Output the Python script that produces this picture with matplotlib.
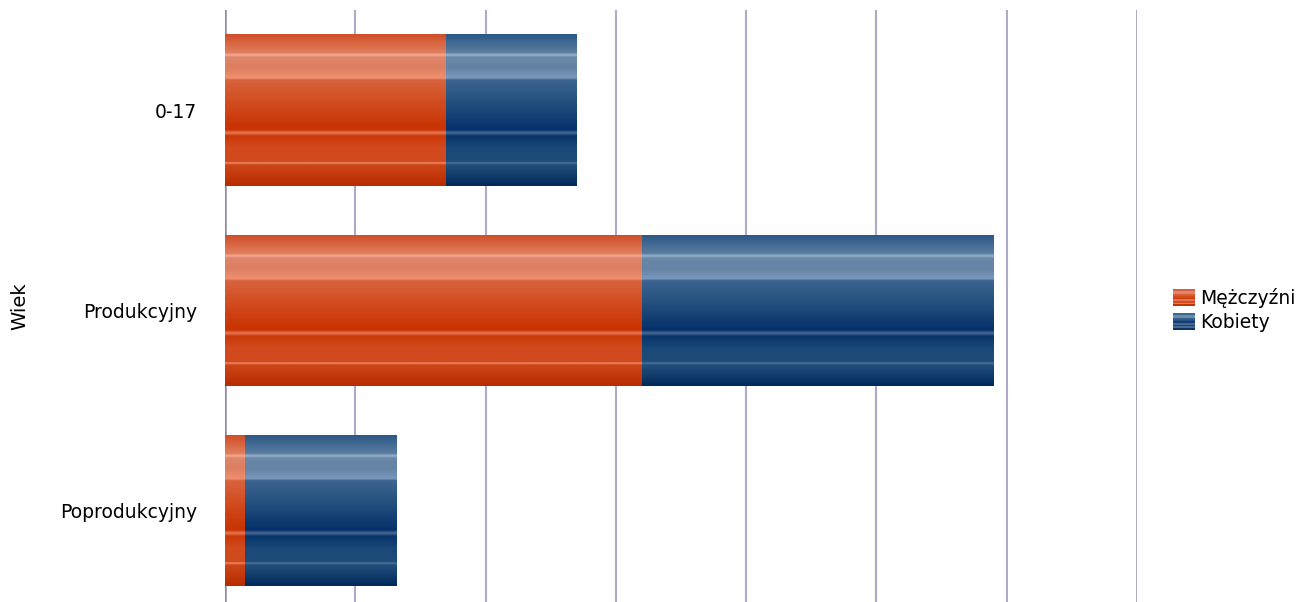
import numpy as np
import matplotlib.pyplot as plt
from matplotlib.patches import Rectangle
from matplotlib.legend_handler import HandlerBase

categories = ["0-17", "Produkcyjny", "Poprodukcyjny"]
men = [17, 32, 1.5]
women = [10, 27, 11.6]
series_names = ["Mężczyźni", "Kobiety"]

# vertical colour profile of the bars (position from top, colour)
orange_stops = [(0.00, "#d04e28"), (0.12, "#e07e5c"), (0.137, "#f2ac94"), (0.15, "#e0866a"),
                (0.22, "#dc7e60"), (0.29, "#f09070"), (0.30, "#d8643e"), (0.45, "#d24c20"),
                (0.63, "#c83200"), (0.65, "#e87a58"), (0.67, "#ca3808"), (0.75, "#d24a1e"),
                (0.84, "#d04a1e"), (0.85, "#ee9070"), (0.86, "#cc4618"), (1.00, "#b82c00")]
blue_stops = [(0.00, "#2c5886"), (0.12, "#5a7ca0"), (0.137, "#9ab4cc"), (0.15, "#6a88a8"),
              (0.22, "#6482a4"), (0.29, "#7a98bc"), (0.30, "#3c6490"), (0.45, "#23507e"),
              (0.63, "#05306a"), (0.65, "#4a6c94"), (0.67, "#08346a"), (0.75, "#1a4878"),
              (0.84, "#1f4c7a"), (0.85, "#54769c"), (0.86, "#234f7c"), (1.00, "#00285a")]


def profile(stops, n=300):
    pos = np.array([s[0] for s in stops])
    rgb = np.array([[int(c[i:i + 2], 16) / 255 for i in (1, 3, 5)] for _, c in stops])
    t = np.linspace(0, 1, n)
    return np.stack([np.interp(t, pos, rgb[:, k]) for k in range(3)], axis=1)


orange_img = profile(orange_stops)[:, None, :]
blue_img = profile(blue_stops)[:, None, :]


def paint(ax, bars, img):
    for b in bars:
        b.set_alpha(0)
        x0, y0 = b.get_x(), b.get_y()
        ax.imshow(img, extent=(x0, x0 + b.get_width(), y0 + b.get_height(), y0),
                  aspect="auto", interpolation="bilinear", zorder=3)


class GradHandler(HandlerBase):
    def __init__(self, img):
        super().__init__()
        self.img = img

    def create_artists(self, legend, orig_handle, xdescent, ydescent, width, height, fontsize, trans):
        arts = []
        n = 10
        for i in range(n):
            c = self.img[int((i + 0.5) / n * len(self.img)), 0]
            r = Rectangle((-xdescent, -ydescent + height * (1 - (i + 1) / n)), width, height / n,
                          facecolor=c, edgecolor="none", transform=trans)
            arts.append(r)
        return arts


fig = plt.figure(figsize=(13.05, 6.02), dpi=100)
ax = fig.add_axes([225 / 1305, 0, (1137 - 225) / 1305, 592 / 602])

y = np.arange(len(categories))
b1 = ax.barh(y, men, height=0.755, color="#d04a1e", label=series_names[0])
b2 = ax.barh(y, women, left=men, height=0.755, color="#1f4c7a", label=series_names[1])
paint(ax, b1, orange_img)
paint(ax, b2, blue_img)

ax.set_xlim(0, 70)
ax.set_ylim(2.46, -0.5)
ax.set_xticks(np.arange(0, 71, 10))
ax.set_xticklabels([])
ax.set_yticks(y)
ax.set_yticklabels(categories, fontsize=13.5)
ax.tick_params(axis="y", length=0, pad=20)
ax.tick_params(axis="x", length=0)
ax.grid(axis="x", color="#aea9c9", linewidth=1.5, zorder=0)
ax.set_axisbelow(True)
for s in ax.spines.values():
    s.set_visible(False)
ax.axvline(0, color="#8c8aa4", linewidth=1.8, zorder=1)
fig.text(20 / 1305, 1 - 306 / 602, "Wiek", rotation=90, fontsize=14, ha="center", va="center")

fig.legend([b1, b2], series_names, loc="center left", bbox_to_anchor=(1160 / 1305, 1 - 310 / 602),
           frameon=False, fontsize=13.5, handlelength=1.15, handleheight=1.0, handletextpad=0.3,
           labelspacing=0.25, borderpad=0.2,
           handler_map={b1: GradHandler(orange_img), b2: GradHandler(blue_img)})

plt.savefig("out.png", dpi=100)
